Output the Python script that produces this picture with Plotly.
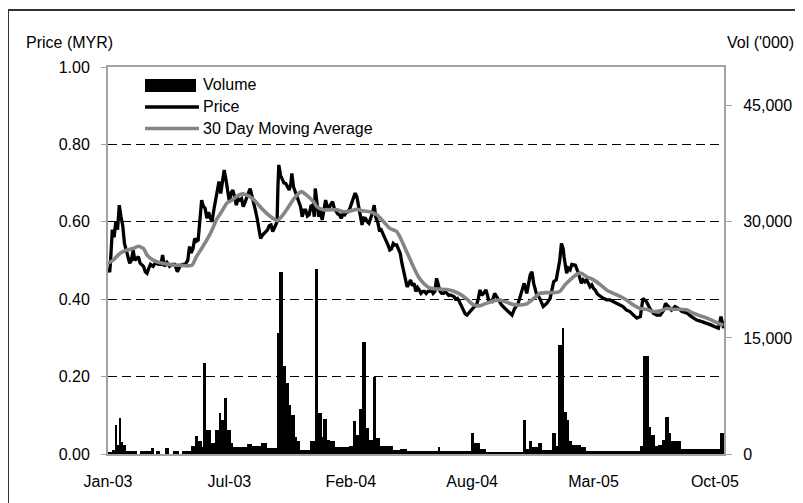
import plotly.graph_objects as go

# ---------------- data ----------------
tick_idx = [0, 140, 280, 420, 560, 700]
tick_labels = ["Jan-03", "Jul-03", "Feb-04", "Aug-04", "Mar-05", "Oct-05"]

price_day = [0, 2, 3, 5, 7, 9, 11, 13, 15, 17,
             19, 21, 23, 25, 27, 29, 31, 33, 35, 37,
             39, 41, 43, 45, 47, 49, 52, 55, 58, 61,
             63, 65, 68, 71, 74, 77, 80, 83, 86, 89,
             92, 94, 96, 98, 100, 102, 104, 106, 108, 110,
             112, 114, 116, 118, 120, 122, 124, 126, 128, 130,
             132, 134, 136, 138, 140, 142, 144, 146, 148, 150,
             152, 154, 156, 158, 160, 162, 164, 166, 168, 170,
             172, 174, 176, 178, 180, 182, 184, 186, 188, 190,
             192, 194, 195, 196, 197, 199, 201, 203, 205, 207,
             209, 211, 212, 214, 216, 218, 220, 222, 224, 226,
             228, 230, 232, 234, 236, 238, 239, 241, 243, 245,
             247, 249, 251, 253, 255, 257, 259, 261, 263, 265,
             267, 269, 271, 273, 275, 277, 279, 281, 283, 285,
             287, 289, 291, 293, 295, 297, 299, 301, 303, 305,
             307, 309, 311, 313, 315, 317, 319, 321, 323, 325,
             327, 329, 331, 333, 335, 337, 339, 341, 343, 345,
             347, 349, 351, 353, 355, 357, 359, 361, 363, 365,
             367, 369, 371, 373, 375, 377, 379, 381, 383, 385,
             387, 389, 391, 393, 395, 397, 399, 401, 403, 405,
             407, 410, 412, 414, 417, 421, 425, 427, 429, 431,
             433, 436, 439, 443, 446, 450, 454, 458, 462, 466,
             469, 473, 477, 480, 483, 487, 489, 491, 494, 498,
             502, 506, 510, 514, 517, 519, 521, 523, 525, 526,
             529, 531, 533, 535, 537, 539, 542, 544, 546, 548,
             550, 552, 554, 556, 558, 560, 562, 564, 566, 568,
             570, 572, 575, 579, 583, 587, 591, 594, 598, 602,
             606, 610, 614, 617, 621, 625, 629, 633, 637, 641,
             643, 646, 650, 654, 658, 662, 668, 673, 679, 685,
             691, 696, 700, 704, 707, 710]

price_val = [0.48, 0.47, 0.50, 0.58, 0.56, 0.60, 0.58, 0.643, 0.613, 0.59,
             0.544, 0.527, 0.51, 0.493, 0.50, 0.527, 0.50, 0.505, 0.51, 0.493,
             0.49, 0.485, 0.471, 0.467, 0.48, 0.49, 0.485, 0.495, 0.49, 0.49,
             0.514, 0.485, 0.495, 0.485, 0.49, 0.49, 0.471, 0.485, 0.49, 0.49,
             0.50, 0.536, 0.52, 0.53, 0.557, 0.55, 0.553, 0.613, 0.656, 0.64,
             0.635, 0.609, 0.625, 0.61, 0.60, 0.63, 0.652, 0.68, 0.704, 0.673,
             0.70, 0.734, 0.71, 0.686, 0.652, 0.675, 0.682, 0.665, 0.643, 0.66,
             0.656, 0.66, 0.639, 0.65, 0.665, 0.675, 0.686, 0.67, 0.652, 0.63,
             0.609, 0.58, 0.557, 0.565, 0.57, 0.575, 0.579, 0.59, 0.592, 0.575,
             0.585, 0.592, 0.60, 0.691, 0.747, 0.72, 0.708, 0.70, 0.699, 0.69,
             0.682, 0.70, 0.725, 0.69, 0.678, 0.665, 0.656, 0.64, 0.613, 0.63,
             0.63, 0.615, 0.618, 0.64, 0.643, 0.613, 0.686, 0.65, 0.613, 0.63,
             0.605, 0.63, 0.656, 0.64, 0.635, 0.645, 0.652, 0.635, 0.626, 0.62,
             0.618, 0.609, 0.62, 0.618, 0.625, 0.626, 0.635, 0.648, 0.66, 0.674,
             0.665, 0.64, 0.613, 0.592, 0.61, 0.609, 0.60, 0.596, 0.61, 0.622,
             0.643, 0.61, 0.60, 0.579, 0.58, 0.57, 0.56, 0.553, 0.54, 0.527,
             0.53, 0.544, 0.54, 0.54, 0.53, 0.519, 0.493, 0.471, 0.454, 0.432,
             0.44, 0.45, 0.435, 0.441, 0.42, 0.43, 0.424, 0.415, 0.42, 0.42,
             0.415, 0.42, 0.42, 0.424, 0.415, 0.42, 0.454, 0.44, 0.42, 0.415,
             0.415, 0.42, 0.415, 0.41, 0.411, 0.41, 0.407, 0.40, 0.402, 0.395,
             0.385, 0.368, 0.362, 0.359, 0.368, 0.377, 0.385, 0.40, 0.424, 0.41,
             0.415, 0.424, 0.398, 0.394, 0.415, 0.398, 0.385, 0.376, 0.368, 0.359,
             0.376, 0.389, 0.419, 0.441, 0.415, 0.463, 0.471, 0.441, 0.415, 0.402,
             0.381, 0.389, 0.402, 0.445, 0.45, 0.475, 0.50, 0.544, 0.53, 0.51,
             0.467, 0.48, 0.476, 0.49, 0.488, 0.488, 0.471, 0.455, 0.441, 0.45,
             0.445, 0.45, 0.441, 0.432, 0.437, 0.428, 0.424, 0.415, 0.411, 0.407,
             0.404, 0.402, 0.398, 0.398, 0.394, 0.389, 0.385, 0.381, 0.372, 0.368,
             0.359, 0.351, 0.355, 0.402, 0.394, 0.376, 0.364, 0.359, 0.359, 0.372,
             0.389, 0.381, 0.372, 0.381, 0.376, 0.368, 0.364, 0.355, 0.346, 0.342,
             0.338, 0.333, 0.329, 0.325, 0.355, 0.325]

ma_day = [0, 6, 14, 22, 29, 35, 41, 45, 52, 60,
          68, 75, 83, 91, 97, 102, 108, 114, 120, 125,
          131, 137, 143, 148, 154, 160, 166, 172, 177, 183,
          189, 195, 200, 206, 212, 218, 223, 229, 237, 241,
          248, 256, 264, 272, 279, 287, 295, 302, 310, 318,
          325, 333, 338, 343, 348, 353, 358, 364, 370, 376,
          383, 391, 398, 406, 414, 421, 429, 437, 445, 452,
          460, 468, 475, 483, 491, 498, 506, 514, 521, 527,
          533, 541, 546, 552, 560, 568, 575, 583, 591, 598,
          606, 614, 621, 629, 637, 644, 652, 660, 668, 675,
          683, 691, 698, 706, 710]

ma_val = [0.493, 0.501, 0.519, 0.527, 0.531, 0.537, 0.531, 0.514, 0.501, 0.494,
          0.491, 0.488, 0.488, 0.486, 0.488, 0.51, 0.531, 0.553, 0.579, 0.605,
          0.626, 0.648, 0.656, 0.665, 0.672, 0.669, 0.661, 0.648, 0.635, 0.622,
          0.611, 0.603, 0.613, 0.631, 0.652, 0.669, 0.678, 0.669, 0.652, 0.639,
          0.631, 0.631, 0.631, 0.626, 0.628, 0.632, 0.628, 0.626, 0.618, 0.60,
          0.583, 0.575, 0.555, 0.53, 0.505, 0.48, 0.458, 0.441, 0.43, 0.427,
          0.426, 0.425, 0.421, 0.413, 0.40, 0.386, 0.383, 0.39, 0.396, 0.398,
          0.392, 0.386, 0.385, 0.388, 0.402, 0.415, 0.417, 0.417, 0.42, 0.437,
          0.45, 0.465, 0.467, 0.458, 0.45, 0.437, 0.424, 0.415, 0.407, 0.398,
          0.385, 0.376, 0.374, 0.368, 0.37, 0.376, 0.374, 0.374, 0.372, 0.364,
          0.357, 0.351, 0.344, 0.336, 0.333]

# volume in '000, as runs of trading days (first day, last day, daily volume)
vol_start = [0, 5, 8, 11, 13, 16, 18, 21, 27, 37, 50, 56, 66, 75, 86, 96, 101, 104, 109, 110,
             114, 119, 124, 128, 131, 134, 138, 142, 145, 161, 167, 177, 184, 195, 198, 202, 206, 209, 212, 216,
             218, 222, 234, 239, 243, 247, 249, 253, 256, 262, 279, 283, 287, 290, 294, 298, 301, 306, 310, 314,
             329, 337, 345, 382, 384, 419, 423, 430, 436, 479, 483, 486, 490, 496, 501, 513, 517, 520, 524, 527,
             530, 532, 536, 546, 552, 614, 618, 624, 627, 631, 635, 640, 643, 647, 650, 661, 706]
vol_end = [4, 7, 10, 12, 15, 17, 20, 26, 33, 49, 53, 59, 70, 81, 95, 100, 103, 108, 109, 113,
           118, 123, 127, 130, 133, 137, 141, 144, 160, 166, 176, 183, 194, 197, 201, 205, 208, 211, 215, 217,
           221, 233, 238, 242, 246, 248, 252, 255, 261, 278, 282, 286, 289, 293, 297, 300, 305, 309, 313, 328,
           336, 344, 381, 383, 418, 422, 429, 435, 478, 482, 485, 489, 495, 500, 512, 516, 519, 523, 526, 529,
           531, 535, 545, 551, 613, 617, 623, 626, 630, 634, 639, 642, 646, 649, 660, 705, 710]
vol_k = [250, 500, 3750, 1200, 4700, 1600, 1160, 350, 450, 350, 780, 350, 780, 400, 400, 1030, 2370, 1640, 900, 11700,
         3140, 1420, 3140, 5250, 4440, 7280, 3140, 1420, 900, 1300, 1000, 1400, 800, 15590, 23560, 11410, 9130, 6330, 5040, 2240,
         1640, 560, 1640, 23860, 5250, 2240, 4480, 1850, 1640, 900, 1000, 4220, 2500, 5770, 14510, 3360, 1850, 9900, 2020, 1030,
         560, 650, 430, 860, 430, 2670, 1420, 650, 300, 4440, 650, 1640, 860, 1420, 560, 2670, 990, 14080, 16240, 5470,
         4440, 1640, 1200, 860, 430, 990, 12660, 3530, 2500, 990, 1200, 1850, 4740, 2670, 1640, 650, 2670]

assert len(price_day) == len(price_val)
assert len(ma_day) == len(ma_val)
assert len(vol_start) == len(vol_end) == len(vol_k)

# ---------------- geometry (layout only) ----------------
# The page body has an 8px margin, so the figure is drawn 8px in from the window corner.
OFF = 8
WIN_W, WIN_H = 803, 503
W, H = WIN_W - OFF, WIN_H - OFF
PL, PR, PT, PB = 108, 724, 67, 454  # plot area in window pixels


def px(x):
    return (x - PL) / (PR - PL)


def py(y):
    return (PB - y) / (PB - PT)


FONT = "Liberation Sans, Arial, sans-serif"
AXC = "#a3a3a3"
MAC = "#858585"

vol_x = [(s + e) / 2 for s, e in zip(vol_start, vol_end)]
vol_w = [e - s + 1 for s, e in zip(vol_start, vol_end)]

fig = go.Figure()
fig.add_trace(go.Scatter(x=price_day, y=price_val, mode="lines", name="Price",
                         line=dict(color="black", width=3.3), yaxis="y"))
fig.add_trace(go.Scatter(x=ma_day, y=ma_val, mode="lines", name="30 Day Moving Average",
                         line=dict(color=MAC, width=3.6, shape="spline", smoothing=0.6), yaxis="y"))
fig.add_trace(go.Bar(x=vol_x, y=vol_k, width=vol_w, name="Volume", yaxis="y2",
                     marker=dict(color="black", line=dict(width=0))))

shapes = [
    # outer chart border
    dict(type="rect", xref="paper", yref="paper", x0=px(8), y0=py(512), x1=px(813), y1=py(10),
         line=dict(color="#333333", width=2), fillcolor="rgba(0,0,0,0)", layer="above"),
    # legend symbols
    dict(type="rect", xref="paper", yref="paper", x0=px(145), x1=px(196), y0=py(92), y1=py(79),
         line=dict(width=0), fillcolor="black"),
    dict(type="line", xref="paper", yref="paper", x0=px(145), x1=px(199), y0=py(107), y1=py(107),
         line=dict(color="black", width=3.3)),
    dict(type="line", xref="paper", yref="paper", x0=px(145), x1=px(199), y0=py(128.5), y1=py(128.5),
         line=dict(color=MAC, width=3.6)),
]

annotations = [
    dict(text="Volume", x=px(201), y=py(85), xref="paper", yref="paper", xanchor="left", yanchor="middle",
         showarrow=False, font=dict(size=16, color="black", family=FONT)),
    dict(text="Price", x=px(201), y=py(106.5), xref="paper", yref="paper", xanchor="left", yanchor="middle",
         showarrow=False, font=dict(size=16, color="black", family=FONT)),
    dict(text="30 Day Moving Average", x=px(201), y=py(128), xref="paper", yref="paper", xanchor="left",
         yanchor="middle", showarrow=False, font=dict(size=16, color="black", family=FONT)),
    dict(text="Price (MYR)", x=px(24), y=py(43), xref="paper", yref="paper", xanchor="left", yanchor="middle",
         showarrow=False, font=dict(size=16, color="black", family=FONT)),
    dict(text="Vol ('000)", x=px(796), y=py(42), xref="paper", yref="paper", xanchor="right", yanchor="middle",
         showarrow=False, font=dict(size=16, color="black", family=FONT)),
]

fig.update_layout(
    width=W, height=H, autosize=False,
    margin=dict(l=PL - OFF, r=WIN_W - PR, t=PT - OFF, b=WIN_H - PB, pad=0),
    paper_bgcolor="white", plot_bgcolor="white",
    showlegend=False, bargap=0,
    font=dict(family=FONT, size=16, color="black"),
    xaxis=dict(range=[0, 710.5], tickmode="array", tickvals=tick_idx, ticktext=tick_labels,
               showgrid=False, zeroline=False, showline=True, linecolor=AXC, linewidth=2, mirror=True,
               ticks="", ticklabelstandoff=12, tickfont=dict(size=16)),
    yaxis=dict(range=[0, 1], tickmode="array", tickvals=[0, 0.2, 0.4, 0.6, 0.8, 1.0], tickformat=".2f",
               showgrid=True, gridcolor="black", gridwidth=1, griddash="9px,5px", zeroline=False,
               showline=True, linecolor=AXC, linewidth=2, ticks="outside", ticklen=5, tickcolor=AXC,
               tickwidth=1, ticklabelstandoff=8, tickfont=dict(size=16)),
    yaxis2=dict(range=[0, 50000], overlaying="y", side="right", tickmode="array",
                tickvals=[0, 15000, 30000, 45000], ticktext=["0", "15,000", "30,000", "45,000"],
                showgrid=False, zeroline=False, showline=True, linecolor=AXC, linewidth=2,
                ticks="outside", ticklen=6, tickcolor=AXC, tickwidth=1, ticklabelstandoff=8,
                tickfont=dict(size=16)),
    shapes=shapes, annotations=annotations,
)

fig.write_html("out.html", config={"displayModeBar": False})
